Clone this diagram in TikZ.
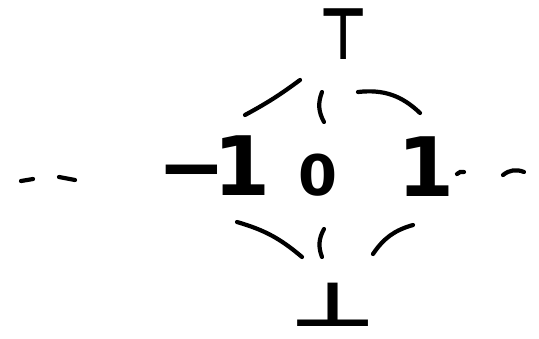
\documentclass[tikz,border=0pt]{standalone}
\usepackage{fontspec}
\usepackage{graphicx}
\newfontfamily\dvs{DejaVu Sans}
\usetikzlibrary{calc}
\tikzset{
  lbl/.style={inner sep=0pt, outer sep=0pt, text=black},
  fbig/.style={font=\dvs\bfseries\fontsize{82}{82}\selectfont},
  fzero/.style={font=\dvs\bfseries\fontsize{56}{56}\selectfont},
  ftop/.style={font=\dvs\bfseries\fontsize{60}{60}\selectfont},
  fbot/.style={font=\dvs\bfseries\fontsize{75}{75}\selectfont},
  hasse/.style={line width=4.2pt, line cap=round, black},
  ellip/.style={line width=4.2pt, line cap=round, black}
}
\begin{document}
\begin{tikzpicture}
\useasboundingbox (0pt,0pt) rectangle (539pt,-338pt);
\node[lbl, ftop] (ntop) at (344pt,-34pt) {\scalebox{0.88}[1.2]{⊤}};
\node[lbl, fbig] (nm1) at (214pt,-166pt) {−\kern-12pt 1};
\node[lbl, fzero] (nzero) at (318pt,-175pt) {0};
\node[lbl, fbig] (none) at (426pt,-167pt) {1};
\node[lbl, fbot] (nbot) at (333pt,-305pt) {\scalebox{1.27}[0.82]{⊥}};
% Hasse edges
\draw[hasse] ($(ntop)+(-44pt,-46pt)$) to[bend left=4] ($(nm1)+(31pt,51pt)$);
\draw[hasse] ($(ntop)+(-22pt,-58pt)$) to[bend right=25] ($(nzero)+(6pt,53pt)$);
\draw[hasse] ($(ntop)+(14pt,-58pt)$) to[bend left=25] ($(none)+(-6pt,54pt)$);
\draw[hasse] ($(nm1)+(23pt,-56pt)$) to[bend left=12] ($(nbot)+(-31pt,48pt)$);
\draw[hasse] ($(nzero)+(6pt,-54pt)$) to[bend right=25] ($(nbot)+(-11pt,48pt)$);
\draw[hasse] ($(none)+(-13pt,-58pt)$) to[bend right=20] ($(nbot)+(40pt,51pt)$);
% side ellipses
\draw[ellip] (21pt,-181pt) -- (33pt,-179pt);
\draw[ellip] (59pt,-177pt) -- (75pt,-180pt);
\draw[ellip] (457pt,-174pt) to[bend left=30] (464pt,-172pt);
\draw[ellip] (503pt,-175pt) to[bend left=30] (524pt,-172pt);
\end{tikzpicture}
\end{document}
